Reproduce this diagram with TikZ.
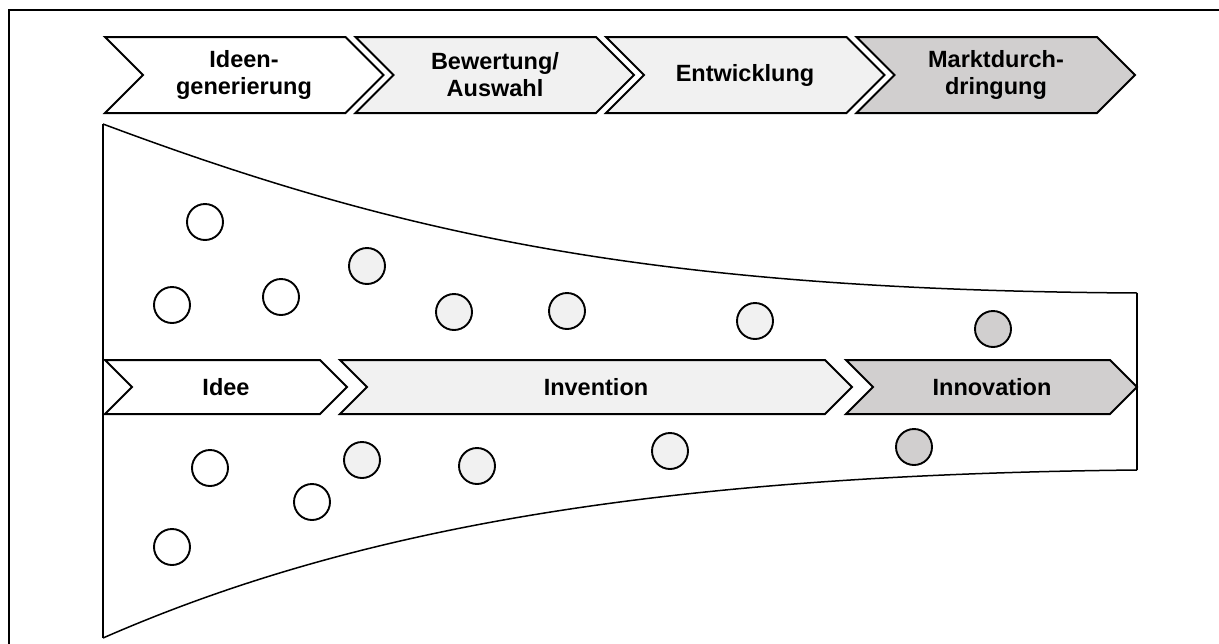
\documentclass[tikz,border=0pt]{standalone}
\usepackage{fontspec}
\setmainfont{Liberation Sans}
\definecolor{phaselight}{RGB}{241,241,241}
\definecolor{phasedark}{RGB}{209,207,207}
\tikzset{
  chev/.style={draw=black, line width=2pt, line join=miter},
  chevtext/.style={font=\bfseries\fontsize{23.5}{27}\selectfont, align=center, inner sep=0pt},
  idea/.style={circle, draw=black, line width=1.9pt, minimum size=36pt, inner sep=0pt},
  funnel/.style={draw=black, line width=1.5pt},
  funnelside/.style={draw=black, line width=2.3pt},
}
\begin{document}
\begin{tikzpicture}[x=1pt, y=-1pt]
\useasboundingbox (0,0) rectangle (1219,643);

% outer frame (top and left edges)
\draw[line width=2.5pt] (9,646) -- (9,10) -- (1222,10);

% funnel outline
\coordinate (ftl) at (103,124);
\coordinate (fbl) at (103,638);
\coordinate (ftr) at (1137,293);
\coordinate (fbr) at (1137,470);
\draw[funnel] (ftl) .. controls (400,235) and (650,290) .. (ftr);
\draw[funnel] (fbl) .. controls (350,530) and (650,475) .. (fbr);
\draw[funnelside] (ftl) -- (fbl);
\draw[funnelside] (ftr) -- (fbr);

% process phases (top row)
\path[chev, fill=white]       (105,37) -- (345.5,37) -- (383.5,75) -- (345.5,113) -- (105,113) -- (143,75) -- cycle;
\path[chev, fill=phaselight]  (355.5,37) -- (596,37) -- (634,75) -- (596,113) -- (355.5,113) -- (393.5,75) -- cycle;
\path[chev, fill=phaselight]  (606,37) -- (846.5,37) -- (884.5,75) -- (846.5,113) -- (606,113) -- (644,75) -- cycle;
\path[chev, fill=phasedark]   (856.5,37) -- (1097,37) -- (1135,75) -- (1097,113) -- (856.5,113) -- (894.5,75) -- cycle;
\node[chevtext] (p1) at (244,75) {Ideen-\\generierung};
\node[chevtext] (p2) at (495,75) {Bewertung/\\Auswahl};
\node[chevtext] (p3) at (745,75) {Entwicklung};
\node[chevtext] (p4) at (996,75) {Marktdurch-\\dringung};

% stages (middle row)
\path[chev, fill=white]      (105,360) -- (320,360) -- (347,387) -- (320,414) -- (105,414) -- (132,387) -- cycle;
\path[chev, fill=phaselight] (340,360) -- (825,360) -- (852,387) -- (825,414) -- (340,414) -- (367,387) -- cycle;
\path[chev, fill=phasedark]  (846,360) -- (1110,360) -- (1137,387) -- (1110,414) -- (846,414) -- (873,387) -- cycle;
\node[chevtext] (s1) at (226,387) {Idee};
\node[chevtext] (s2) at (596,387) {Invention};
\node[chevtext] (s3) at (992,387) {Innovation};

% ideas in the upper half
\node[idea, fill=white]      (u1) at (205,222) {};
\node[idea, fill=white]      (u2) at (172,305) {};
\node[idea, fill=white]      (u3) at (281,297) {};
\node[idea, fill=phaselight] (u4) at (367,266) {};
\node[idea, fill=phaselight] (u5) at (454,312) {};
\node[idea, fill=phaselight] (u6) at (567,311) {};
\node[idea, fill=phaselight] (u7) at (755,321) {};
\node[idea, fill=phasedark]  (u8) at (993,329) {};

% ideas in the lower half
\node[idea, fill=white]      (l1) at (210,468) {};
\node[idea, fill=white]      (l2) at (172,547) {};
\node[idea, fill=white]      (l3) at (312,502) {};
\node[idea, fill=phaselight] (l4) at (362,460) {};
\node[idea, fill=phaselight] (l5) at (477,466) {};
\node[idea, fill=phaselight] (l6) at (670,451) {};
\node[idea, fill=phasedark]  (l7) at (914,447) {};
\end{tikzpicture}
\end{document}
